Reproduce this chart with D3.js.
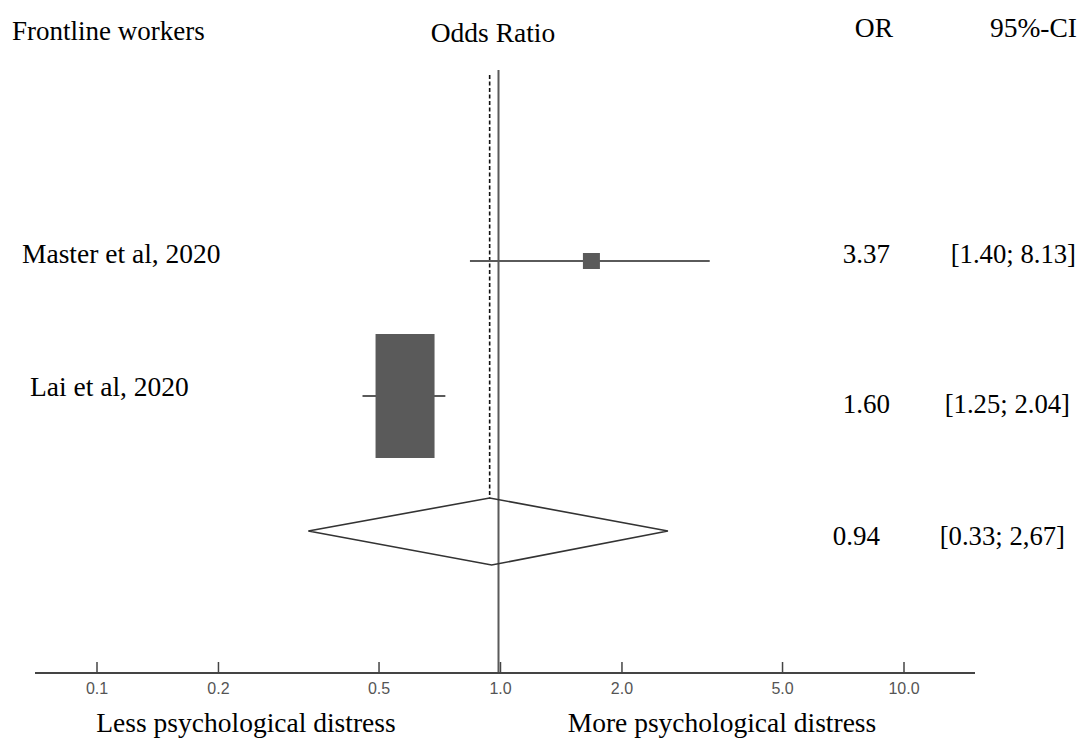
<!DOCTYPE html>
<html>
<head>
<meta charset="utf-8">
<script src="https://cdn.jsdelivr.net/npm/d3@7"></script>
<style>
  body { margin: 0; background: #fff; }
  svg text { font-family: "Liberation Serif", "Times New Roman", serif; }
  svg text.tick-label { font-family: "Liberation Sans", Arial, sans-serif; font-size: 16px; }
</style>
</head>
<body>
<svg id="plot" width="1082" height="738"></svg>
<script>
// study rows
const studies = ["Master et al, 2020", "Lai et al, 2020"];
// where the marks sit on the OR axis (as drawn)
const plotEst = [1.68, 0.58];
const plotLow = [0.84, 0.455];
const plotHigh = [3.3, 0.73];
// pooled estimate (diamond)
const pooled = { est: 0.94, low: 0.334, high: 2.6 };
// printed columns
const orText = ["3.37", "1.60", "0.94"];
const ciText = ["[1.40; 8.13]", "[1.25; 2.04]", "[0.33; 2,67]"];
// axis ticks
const tickValues = [0.1, 0.2, 0.5, 1.0, 2.0, 5.0, 10.0];
const tickLabels = ["0.1", "0.2", "0.5", "1.0", "2.0", "5.0", "10.0"];

const svg = d3.select("#plot");
const markColor = "#5a5a5a";

// log x scale for odds ratios
const x = d3.scaleLog().domain([0.1, 10]).range([97, 904]);
// rows: 1 = Master, 2 = Lai, 3 = pooled
const y = d3.scaleLinear().domain([0, 4]).range([126, 666]);
const axisY = 673;

// headers
svg.append("text").attr("x", 12).attr("y", 40).attr("font-size", 27).text("Frontline workers");
svg.append("text").attr("x", 493).attr("y", 42).attr("font-size", 27.5).attr("text-anchor", "middle").text("Odds Ratio");
svg.append("text").attr("x", 893).attr("y", 37).attr("font-size", 27.5).attr("text-anchor", "end").text("OR");
svg.append("text").attr("x", 1077).attr("y", 37).attr("font-size", 27.5).attr("text-anchor", "end").text("95%-CI");

// reference lines
svg.append("line")
  .attr("x1", x(1) - 2).attr("x2", x(1) - 2)
  .attr("y1", 70).attr("y2", axisY)
  .attr("stroke", markColor).attr("stroke-width", 2);

svg.append("line")
  .attr("x1", x(pooled.est)).attr("x2", x(pooled.est))
  .attr("y1", 75).attr("y2", y(3) - 33)
  .attr("stroke", "#111").attr("stroke-width", 1.6)
  .attr("stroke-dasharray", "4,2.5");

// study CI lines and boxes
const boxSize = [[17, 16], [59, 124]];
studies.forEach((s, i) => {
  const yy = y(i + 1);
  svg.append("line")
    .attr("x1", x(plotLow[i])).attr("x2", x(plotHigh[i]))
    .attr("y1", yy).attr("y2", yy)
    .attr("stroke", markColor).attr("stroke-width", 2);
  svg.append("rect")
    .attr("x", x(plotEst[i]) - boxSize[i][0] / 2)
    .attr("y", yy - boxSize[i][1] / 2)
    .attr("width", boxSize[i][0])
    .attr("height", boxSize[i][1])
    .attr("fill", markColor);
});

// pooled diamond
const dy = y(3);
svg.append("path")
  .attr("d", `M${x(pooled.low)},${dy} L${x(pooled.est)},${dy - 33} L${x(pooled.high)},${dy} L${x(pooled.est) + 2},${dy + 34} Z`)
  .attr("fill", "none")
  .attr("stroke", "#333")
  .attr("stroke-width", 1.6);

// left labels
const labelDy = [2, 0];
studies.forEach((s, i) => {
  svg.append("text")
    .attr("x", i === 0 ? 22 : 30)
    .attr("y", y(i + 1) + labelDy[i])
    .attr("font-size", 27.5)
    .text(s);
});

// right columns
const colDy = [2, 17, 14];
const orDx = [0, 0, -10];
const ciDx = [0, -6, -11];
orText.forEach((t, i) => {
  svg.append("text")
    .attr("x", 890 + orDx[i]).attr("y", y(i + 1) + colDy[i])
    .attr("font-size", 27).attr("text-anchor", "end").text(t);
  svg.append("text")
    .attr("x", 1076 + ciDx[i]).attr("y", y(i + 1) + colDy[i])
    .attr("font-size", 26.7).attr("text-anchor", "end").text(ciText[i]);
});

// x axis
svg.append("line")
  .attr("x1", 35).attr("x2", 975)
  .attr("y1", axisY).attr("y2", axisY)
  .attr("stroke", "#444").attr("stroke-width", 2);

const ticks = svg.append("g").selectAll("g")
  .data(tickValues)
  .join("g")
  .attr("transform", (d) => `translate(${x(d)},${axisY})`);
ticks.append("line").attr("y1", 0).attr("y2", -11).attr("stroke", "#444").attr("stroke-width", 1.5);
ticks.append("text")
  .attr("class", "tick-label")
  .attr("y", 21)
  .attr("text-anchor", "middle")
  .attr("fill", "#555")
  .text((d, i) => tickLabels[i]);

// direction labels
svg.append("text").attr("x", 246).attr("y", 732).attr("font-size", 27.5).attr("text-anchor", "middle").text("Less psychological distress");
svg.append("text").attr("x", 722).attr("y", 732).attr("font-size", 27.5).attr("text-anchor", "middle").text("More psychological distress");
</script>
</body>
</html>
